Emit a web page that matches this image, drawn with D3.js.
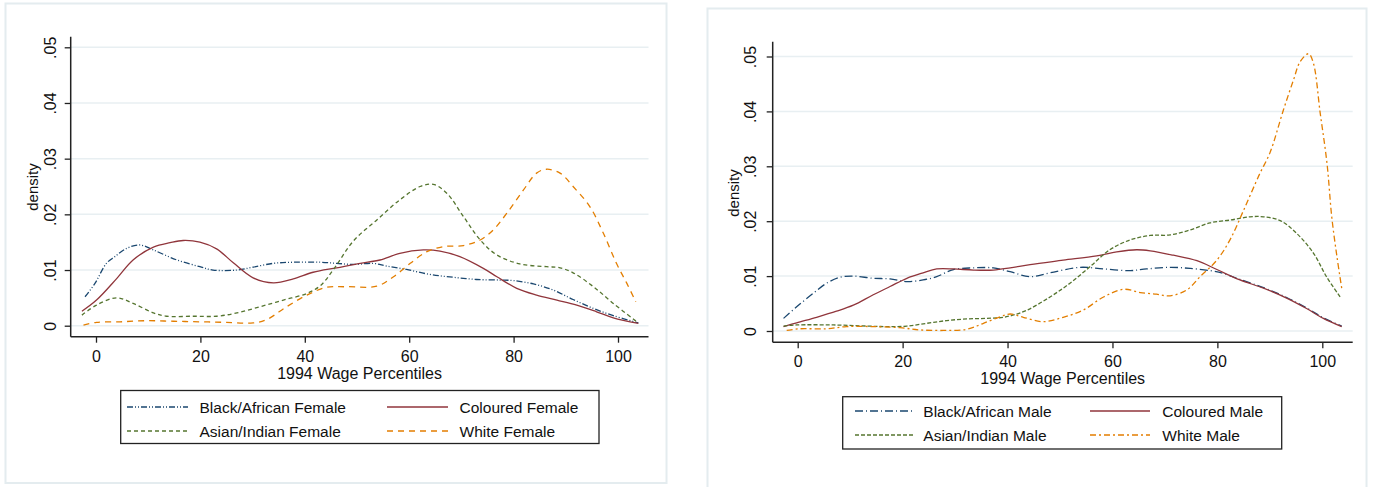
<!DOCTYPE html>
<html>
<head>
<meta charset="utf-8">
<script src="https://cdn.jsdelivr.net/npm/d3@7"></script>
<style>
  html, body { margin: 0; padding: 0; background: #fff; }
  svg { display: block; font-family: "Liberation Sans", Arial, sans-serif; }
</style>
</head>
<body>
<div id="chart"></div>
<script>
(function () {
  // density estimates: [wage percentile, density]
  const blackFemale = [[-2.1,.0052],[-0.2,.0076],[2,.0112],[3.6,.0124],[5.9,.0139],[8.4,.0145],[11,.0136],[15.5,.0118],[19.9,.0106],[22.4,.0100],[27,.0100],[30,.0105],[34,.0112],[37.8,.0114],[43,.0114],[46.1,.0112],[49.3,.0110],[53.1,.0112],[55.7,.0107],[59.5,.0101],[64,.0092],[68.4,.0087],[72.9,.0083],[77.4,.0082],[80,.0081],[83.8,.0075],[87.6,.0064],[91.4,.0047],[95.3,.0031],[99.1,.0018],[103.9,.0005]];
  const colouredFemale = [[-2.7,.0026],[0.1,.0046],[4,.0085],[7.1,.0118],[11,.0141],[14.2,.0149],[16.7,.0153],[19.9,.0150],[23.1,.0138],[26.3,.0113],[30.1,.0086],[34,.0077],[37.8,.0084],[41.6,.0096],[46.1,.0104],[50.6,.0112],[54.4,.0118],[58.2,.0130],[62.7,.0136],[65.9,.0134],[69.7,.0124],[74.2,.0103],[76.8,.0088],[80.6,.0067],[84.4,.0055],[88.3,.0046],[92.1,.0037],[95.9,.0025],[99.1,.0014],[103.9,.0004]];
  const asianFemale = [[-2.7,.0019],[0.1,.0037],[4,.0050],[7.1,.0040],[11,.0023],[13.5,.0017],[18.6,.0017],[23.1,.0017],[27,.0023],[31.4,.0034],[35.9,.0046],[40.4,.0058],[43,.0072],[45.5,.0101],[49.3,.0152],[53.8,.0190],[58.2,.0226],[62.1,.0250],[64.6,.0254],[67.2,.0238],[70.4,.0196],[73.6,.0154],[76.8,.0127],[81.2,.0111],[86.3,.0106],[88.9,.0104],[91.4,.0095],[95.3,.0070],[99.1,.0040],[103.6,.0007]];
  const whiteFemale = [[-2.4,.0001],[0.1,.0006],[4.6,.0007],[9.7,.0009],[14.8,.0008],[19.9,.0007],[25,.0006],[30.1,.0005],[32.7,.0011],[36.5,.0034],[40.4,.0055],[44.2,.0069],[48,.0070],[53.8,.0071],[57,.0088],[60.2,.0112],[63.4,.0133],[66.5,.0142],[70.4,.0144],[73.6,.0154],[76.1,.0172],[78.7,.0202],[81.9,.0244],[84.4,.0274],[86.3,.0281],[88.9,.0274],[91.4,.0250],[94.6,.0214],[97.2,.0166],[99.7,.0112],[101.7,.0076],[103.4,.0043]];

  const blackMale = [[-2.7,.0023],[-0.2,.0044],[3,.0069],[5.5,.0087],[8.1,.0098],[10.6,.0100],[14.4,.0096],[17.6,.0095],[20.8,.0090],[23.9,.0093],[26.5,.0099],[29.7,.0112],[33.5,.0115],[37.3,.0115],[40.5,.0108],[44.3,.0099],[48.1,.0106],[53.8,.0116],[58.3,.0113],[63.4,.0110],[66.5,.0113],[71,.0116],[74.8,.0114],[78.6,.0110],[81.1,.0105],[84.3,.0094],[88.8,.0079],[93.2,.0061],[97,.0042],[100.2,.0024],[103.7,.0009]];
  const colouredMale = [[-2.7,.0008],[-0.2,.0015],[3.6,.0025],[7.4,.0036],[10.6,.0047],[14.4,.0066],[17.6,.0081],[20.8,.0096],[23.9,.0106],[26.5,.0113],[29.7,.0113],[33.5,.0111],[37.3,.0111],[40.5,.0115],[44.3,.0121],[50.6,.0129],[57,.0137],[60.8,.0144],[64.6,.0148],[67.2,.0146],[71.6,.0138],[76.1,.0128],[79.9,.0112],[84.3,.0093],[88.8,.0078],[93.2,.0060],[97,.0041],[100.2,.0023],[103.7,.0008]];
  const asianMale = [[-2.7,.0009],[-0.2,.0011],[6.8,.0011],[13.2,.0009],[17,.0008],[20.8,.0009],[24.6,.0014],[28.4,.0019],[32.2,.0022],[36,.0023],[39.8,.0026],[43.7,.0038],[48.1,.0062],[51.9,.0087],[55.7,.0117],[59.5,.0148],[63.4,.0166],[67.2,.0174],[71,.0175],[74.8,.0184],[78.6,.0197],[82.4,.0202],[86.2,.0208],[88.8,.0208],[92,.0201],[95.1,.0178],[98.3,.0142],[100.8,.0099],[103.4,.0062]];
  const whiteMale = [[-2.1,.0001],[0.4,.0004],[5.5,.0004],[9.3,.0008],[14.4,.0008],[19.5,.0006],[23.3,.0002],[27.8,.0001],[32.2,.0003],[35.4,.0014],[38.6,.0026],[40.5,.0031],[43,.0025],[46.8,.0017],[50.6,.0025],[54.4,.0038],[58.3,.0062],[62.1,.0076],[65.3,.0070],[68.4,.0067],[71,.0064],[74.2,.0075],[76.7,.0099],[79.9,.0129],[82.4,.0166],[85,.0220],[88.1,.0287],[90,.0324],[92.6,.0403],[94.5,.0457],[95.8,.0491],[97.4,.0505],[98.3,.0488],[99.6,.0397],[100.9,.0305],[101.8,.0208],[102.8,.0135],[103.7,.0078]];

  const femaleLabels = ["Black/African Female", "Coloured Female", "Asian/Indian Female", "White Female"];
  const maleLabels = ["Black/African Male", "Coloured Male", "Asian/Indian Male", "White Male"];
  const xTicks = [0, 20, 40, 60, 80, 100];
  const yTicks = [0, .01, .02, .03, .04, .05];
  const yTickLabels = ["0", ".01", ".02", ".03", ".04", ".05"];

  // stata s2color
  const colors = ["#1a476f", "#90353b", "#55752f", "#e37e00"];

  const svg = d3
    .select("#chart")
    .append("svg")
    .attr("width", 1374)
    .attr("height", 487);

  // panel frames
  svg.append("rect")
    .attr("x", 5.5).attr("y", 3.5).attr("width", 661).attr("height", 479.5)
    .attr("fill", "none").attr("stroke", "#e4ecef").attr("stroke-width", 2);
  svg.append("rect")
    .attr("x", 707.5).attr("y", 8.5).attr("width", 659).attr("height", 490)
    .attr("fill", "none").attr("stroke", "#e4ecef").attr("stroke-width", 2);

  function drawPanel(cfg) {
    const g = svg.append("g");
    const x = d3.scaleLinear().domain([0, 100]).range([cfg.x0, cfg.x100]);
    const y = d3.scaleLinear().domain([0, 0.05]).range([cfg.y0, cfg.y05]);

    // gridlines
    g.selectAll(".grid")
      .data(yTicks)
      .join("line")
      .attr("x1", cfg.axisX).attr("x2", cfg.axisRight)
      .attr("y1", d => y(d)).attr("y2", d => y(d))
      .attr("stroke", "#e8eff2").attr("stroke-width", 1.5);

    // y axis
    const yAxis = d3.axisLeft(y).tickValues(yTicks).tickSize(6).tickFormat((d, i) => yTickLabels[i]);
    const ya = g.append("g").attr("transform", `translate(${cfg.axisX},0)`).call(yAxis);
    ya.select(".domain").remove();
    ya.selectAll(".tick line").attr("stroke", "#222").attr("stroke-width", 1.3);
    ya.selectAll(".tick text")
      .attr("x", null).attr("dy", null)
      .attr("transform", `translate(${cfg.yLabelX - cfg.axisX},0) rotate(-90)`)
      .attr("text-anchor", "middle")
      .attr("dy", "0.36em")
      .attr("font-size", 16).attr("fill", "#111")
      .attr("font-family", "Liberation Sans, Arial, sans-serif");
    g.append("line")
      .attr("x1", cfg.axisX).attr("x2", cfg.axisX)
      .attr("y1", cfg.axisTop).attr("y2", cfg.axisY)
      .attr("stroke", "#222").attr("stroke-width", 1.5);

    // x axis
    const xAxis = d3.axisBottom(x).tickValues(xTicks).tickSize(6).tickFormat(d3.format("d"));
    const xa = g.append("g").attr("transform", `translate(0,${cfg.axisY})`).call(xAxis);
    xa.select(".domain").remove();
    xa.selectAll(".tick line").attr("stroke", "#222").attr("stroke-width", 1.3);
    xa.selectAll(".tick text")
      .attr("y", cfg.xLabelY - cfg.axisY).attr("dy", "0.36em")
      .attr("font-size", 16).attr("fill", "#111")
      .attr("font-family", "Liberation Sans, Arial, sans-serif");
    g.append("line")
      .attr("x1", cfg.axisX).attr("x2", cfg.axisRight)
      .attr("y1", cfg.axisY).attr("y2", cfg.axisY)
      .attr("stroke", "#222").attr("stroke-width", 1.5);

    // axis titles
    g.append("text")
      .attr("transform", `translate(${cfg.titleYX},${cfg.titleYY}) rotate(-90)`)
      .attr("text-anchor", "middle").attr("dy", "0.36em")
      .attr("font-size", 15).attr("fill", "#111")
      .text("density");
    g.append("text")
      .attr("x", (cfg.axisX + cfg.axisRight) / 2).attr("y", cfg.titleXY)
      .attr("text-anchor", "middle").attr("dy", "0.36em")
      .attr("font-size", 16).attr("fill", "#111")
      .text("1994 Wage Percentiles");

    // curves
    const line = d3.line()
      .x(d => x(d[0]))
      .y(d => y(d[1]))
      .curve(d3.curveCatmullRom.alpha(0.5));

    cfg.series.forEach((s, i) => {
      g.append("path")
        .datum(s)
        .attr("d", line)
        .attr("fill", "none")
        .attr("stroke", colors[i])
        .attr("stroke-width", 1.3)
        .attr("stroke-dasharray", cfg.dashes[i]);
    });

    // legend
    const lg = cfg.legend;
    g.append("rect")
      .attr("x", lg.x).attr("y", lg.y).attr("width", lg.w).attr("height", lg.h)
      .attr("fill", "#fff").attr("stroke", "#222").attr("stroke-width", 1.3);
    const rowY = [lg.row1, lg.row1, lg.row2, lg.row2];
    const lineX = [lg.c1l, lg.c2l, lg.c1l, lg.c2l];
    const textX = [lg.c1t, lg.c2t, lg.c1t, lg.c2t];
    cfg.labels.forEach((lab, i) => {
      g.append("line")
        .attr("x1", lineX[i]).attr("x2", lineX[i] + lg.len)
        .attr("y1", rowY[i]).attr("y2", rowY[i])
        .attr("stroke", colors[i]).attr("stroke-width", 1.3)
        .attr("stroke-dasharray", cfg.dashes[i]);
      g.append("text")
        .attr("x", textX[i]).attr("y", rowY[i]).attr("dy", "0.36em")
        .attr("font-size", 15.5).attr("fill", "#111")
        .text(lab);
    });
  }

  drawPanel({
    x0: 96, x100: 618, y0: 325.7, y05: 47.3,
    axisX: 70.7, axisTop: 36.7, axisY: 336.7, axisRight: 648.5,
    yLabelX: 50, xLabelY: 356, titleYX: 33, titleYY: 187, titleXY: 373,
    series: [blackFemale, colouredFemale, asianFemale, whiteFemale],
    labels: femaleLabels,
    dashes: ["6,2,1,2,1,2", null, "4,3", "6,5"],
    legend: { x: 120.7, y: 390.5, w: 478.3, h: 53, row1: 407, row2: 431,
              c1l: 127, c2l: 387, len: 61, c1t: 199.5, c2t: 459.5 }
  });

  drawPanel({
    x0: 797.7, x100: 1322.3, y0: 331, y05: 56.5,
    axisX: 772.7, axisTop: 41.7, axisY: 342.3, axisRight: 1352.7,
    yLabelX: 750, xLabelY: 361, titleYX: 733.5, titleYY: 193, titleXY: 378,
    series: [blackMale, colouredMale, asianMale, whiteMale],
    labels: maleLabels,
    dashes: ["8,3,1,3", null, "4,2", "6,3,2,3"],
    legend: { x: 842.7, y: 396.7, w: 439, h: 52.3, row1: 411, row2: 435,
              c1l: 855, c2l: 1090, len: 60, c1t: 923.3, c2t: 1162.3 }
  });
})();
</script>
</body>
</html>
